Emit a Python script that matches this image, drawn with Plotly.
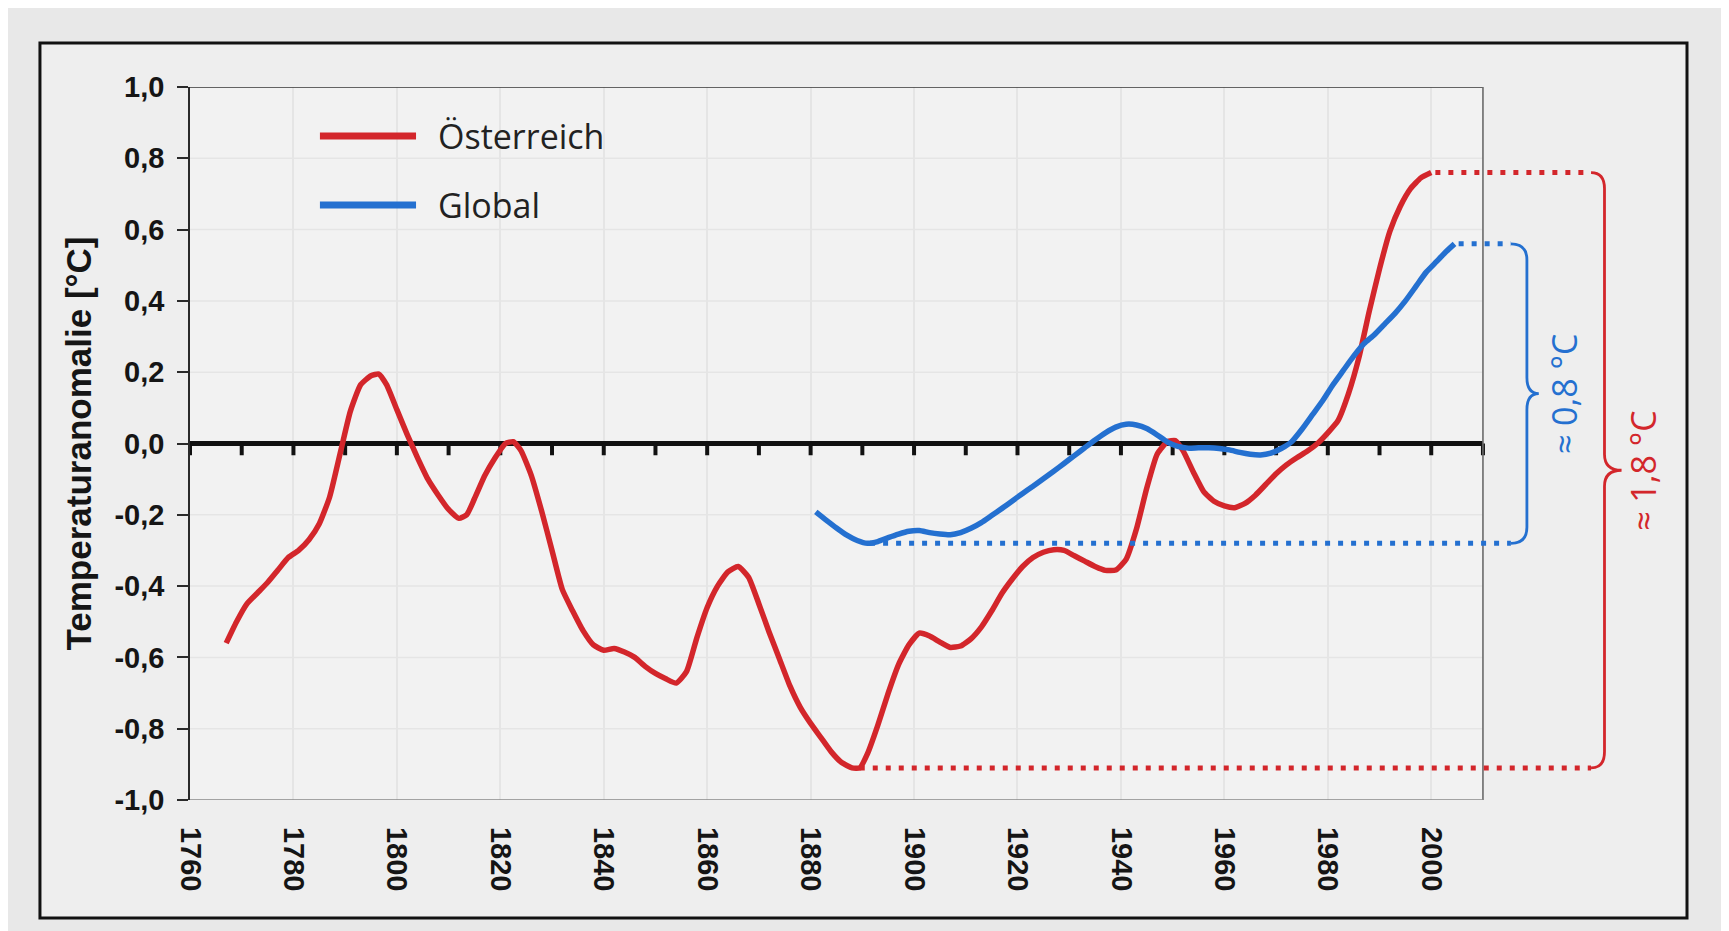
import plotly.graph_objects as go

# ---------------- data ----------------
series_names = ["Österreich", "Global"]

years_at = [1767, 1769, 1771, 1773, 1775, 1777, 1779, 1781, 1783, 1785, 1787, 1789, 1791, 1793,
            1795, 1796.5, 1798, 1800, 1802, 1804, 1806, 1808, 1810, 1812, 1813.5, 1815, 1817,
            1819, 1821, 1822.5, 1824, 1826, 1828, 1830, 1832, 1834, 1836, 1838, 1840, 1842,
            1844, 1846, 1848, 1850, 1852, 1854, 1856, 1858, 1860, 1862, 1864, 1866, 1868, 1870,
            1872, 1874, 1876, 1878, 1880, 1882, 1884, 1886, 1888, 1889.5, 1891, 1893, 1895,
            1897, 1899, 1901, 1903, 1905, 1907, 1909, 1911, 1913, 1915, 1917, 1919, 1921, 1923,
            1925, 1927, 1929, 1931, 1933, 1935, 1937, 1939, 1941, 1943, 1945, 1947, 1949,
            1950.5, 1952, 1954, 1956, 1958, 1960, 1962, 1964, 1966, 1968, 1970, 1972, 1974,
            1976, 1978, 1980, 1982, 1984, 1986, 1988, 1990, 1992, 1994, 1996, 1998, 2000]
temp_at = [-0.56, -0.50, -0.45, -0.42, -0.39, -0.355, -0.32, -0.30, -0.27, -0.225, -0.15, -0.03,
           0.09, 0.165, 0.19, 0.195, 0.165, 0.095, 0.025, -0.04, -0.10, -0.145, -0.185, -0.21,
           -0.20, -0.155, -0.09, -0.04, 0.0, 0.005, -0.02, -0.09, -0.19, -0.30, -0.41, -0.47,
           -0.525, -0.565, -0.58, -0.575, -0.585, -0.60, -0.625, -0.645, -0.66, -0.672, -0.64,
           -0.545, -0.46, -0.40, -0.36, -0.345, -0.375, -0.45, -0.53, -0.605, -0.68, -0.74,
           -0.785, -0.825, -0.865, -0.895, -0.91, -0.91, -0.87, -0.79, -0.70, -0.62, -0.565,
           -0.532, -0.54, -0.557, -0.572, -0.568, -0.548, -0.515, -0.47, -0.42, -0.38, -0.345,
           -0.32, -0.305, -0.298, -0.30, -0.315, -0.33, -0.345, -0.356, -0.355, -0.325, -0.24,
           -0.125, -0.03, 0.005, 0.008, -0.02, -0.08, -0.135, -0.162, -0.175, -0.18, -0.168,
           -0.145, -0.115, -0.085, -0.06, -0.04, -0.022, 0.0, 0.03, 0.065, 0.14, 0.24, 0.37,
           0.49, 0.595, 0.665, 0.715, 0.745, 0.76]

years_gl = [1881, 1883, 1885, 1887, 1889, 1891, 1893, 1895, 1897, 1899, 1901, 1903, 1905, 1907,
            1909, 1911, 1913, 1915, 1917, 1919, 1921, 1923, 1925, 1927, 1929, 1931, 1933, 1935,
            1937, 1939, 1941, 1943, 1945, 1947, 1949, 1951, 1953, 1955, 1957, 1959, 1961, 1963,
            1965, 1967, 1969, 1971, 1973, 1975, 1977, 1979, 1981, 1983, 1985, 1987, 1989, 1991,
            1993, 1995, 1997, 1999, 2001, 2003, 2004.5]
temp_gl = [-0.192, -0.215, -0.237, -0.257, -0.272, -0.28, -0.275, -0.264, -0.254, -0.246,
           -0.244, -0.25, -0.254, -0.256, -0.25, -0.238, -0.222, -0.202, -0.182, -0.161, -0.14,
           -0.12, -0.099, -0.078, -0.056, -0.034, -0.012, 0.01, 0.03, 0.046, 0.054, 0.052,
           0.042, 0.024, 0.004, -0.008, -0.013, -0.012, -0.012, -0.014, -0.018, -0.025, -0.03,
           -0.032, -0.027, -0.014, 0.005, 0.04, 0.08, 0.12, 0.165, 0.205, 0.245, 0.28, 0.305,
           0.335, 0.365, 0.40, 0.44, 0.48, 0.51, 0.54, 0.56]

x_tick_years = [1760, 1780, 1800, 1820, 1840, 1860, 1880, 1900, 1920, 1940, 1960, 1980, 2000]
x_tick_labels = ["1760", "1780", "1800", "1820", "1840", "1860", "1880", "1900", "1920",
                 "1940", "1960", "1980", "2000"]
y_tick_vals = [-1.0, -0.8, -0.6, -0.4, -0.2, 0.0, 0.2, 0.4, 0.6, 0.8, 1.0]
y_tick_labels = ["-1,0", "-0,8", "-0,6", "-0,4", "-0,2", "0,0", "0,2", "0,4", "0,6", "0,8", "1,0"]
zero_tick_years = [1760, 1770, 1780, 1790, 1800, 1810, 1820, 1830, 1840, 1850, 1860, 1870,
                   1880, 1890, 1900, 1910, 1920, 1930, 1940, 1950, 1960, 1970, 1980, 1990,
                   2000, 2010]
range_labels = ["≈ 1,8 °C", "≈ 0,8 °C"]
y_title = "Temperaturanomalie [°C]"

# ---------------- style ----------------
RED = "#d3262b"
BLUE = "#2470d0"
X_MIN, X_END, X_MAX = 1760, 2010, 2048.1
TICK_FONT = dict(family="Liberation Sans, Arial, sans-serif", size=29, color="#151515", weight="bold")
TEXT_FONT = "Open Sans, Noto Sans, sans-serif"

fig = go.Figure()
fig.add_trace(go.Scatter(x=years_at, y=temp_at, mode="lines", name=series_names[0],
                         line=dict(color=RED, width=5.5, shape="spline", smoothing=0.5),
                         showlegend=False, hoverinfo="x+y"))
fig.add_trace(go.Scatter(x=years_gl, y=temp_gl, mode="lines", name=series_names[1],
                         line=dict(color=BLUE, width=5.5, shape="spline", smoothing=0.5),
                         showlegend=False, hoverinfo="x+y"))

shapes = []
# outer frame
shapes.append(dict(type="rect", xref="paper", yref="paper", x0=-0.1007, x1=1.0047,
                   y0=-0.1655, y1=1.0617, fillcolor="#eeeeee",
                   line=dict(color="#111111", width=3), layer="below"))
# inner plot background
shapes.append(dict(type="rect", xref="x", yref="y", x0=X_MIN, x1=X_END, y0=-1, y1=1,
                   fillcolor="#f2f2f2", line=dict(width=0), layer="below"))
# faint horizontal grid
for v in y_tick_vals[1:-1]:
    shapes.append(dict(type="line", xref="x", yref="y", x0=X_MIN, x1=X_END, y0=v, y1=v,
                       line=dict(color="#e5e5e5", width=1.5), layer="below"))
# plot borders
shapes.append(dict(type="line", xref="x", yref="y", x0=X_MIN, x1=X_END, y0=1, y1=1,
                   line=dict(color="#333333", width=1.6)))
shapes.append(dict(type="line", xref="x", yref="y", x0=X_END, x1=X_END, y0=-1, y1=1,
                   line=dict(color="#6a6a6a", width=1.6)))
shapes.append(dict(type="line", xref="x", yref="y", x0=X_MIN, x1=X_END, y0=-1, y1=-1,
                   line=dict(color="#888888", width=1.6)))
# zero line with ticks
shapes.append(dict(type="line", xref="x", yref="y", x0=X_MIN, x1=X_END, y0=0, y1=0,
                   line=dict(color="#111111", width=5), layer="between"))
for yr in zero_tick_years:
    shapes.append(dict(type="line", xref="x", yref="y", x0=yr, x1=yr, y0=0, y1=-0.033,
                       line=dict(color="#111111", width=4), layer="between"))


def brace(x_hook, x_line, x_tip, y_top, y_bot, color):
    r = 0.045
    ym = (y_top + y_bot) / 2
    path = (f"M {x_hook},{y_top} Q {x_line},{y_top} {x_line},{y_top - r} "
            f"L {x_line},{ym + r} Q {x_line},{ym} {x_tip},{ym} "
            f"Q {x_line},{ym} {x_line},{ym - r} "
            f"L {x_line},{y_bot + r} Q {x_line},{y_bot} {x_hook},{y_bot}")
    return dict(type="path", xref="x", yref="y", path=path,
                line=dict(color=color, width=2.8))


def dotted(x0, x1, y, color):
    return dict(type="line", xref="x", yref="y", x0=x0, x1=x1, y0=y, y1=y,
                line=dict(color=color, width=5, dash="5px,8px"))


at_max = max(temp_at); at_max_x = years_at[temp_at.index(at_max)]
at_min = min(temp_at); at_min_x = years_at[temp_at.index(at_min)]
gl_max = max(temp_gl); gl_max_x = years_gl[temp_gl.index(gl_max)]
gl_min = min(temp_gl); gl_min_x = years_gl[temp_gl.index(gl_min)]

RED_HOOK, RED_LINE, RED_TIP = 2030.9, 2033.5, 2036.8
BLUE_HOOK, BLUE_LINE, BLUE_TIP = 2015.4, 2018.5, 2020.8

shapes.append(dotted(at_max_x + 0.8, RED_HOOK, at_max, RED))
shapes.append(dotted(at_min_x + 1.5, RED_HOOK, at_min, RED))
shapes.append(dotted(gl_max_x + 0.8, BLUE_HOOK, gl_max, BLUE))
shapes.append(dotted(gl_min_x + 0.5, BLUE_HOOK, gl_min, BLUE))
shapes.append(brace(RED_HOOK, RED_LINE, RED_TIP, at_max, at_min, RED))
shapes.append(brace(BLUE_HOOK, BLUE_LINE, BLUE_TIP, gl_max, gl_min, BLUE))

# manual legend
shapes.append(dict(type="line", xref="paper", yref="paper", x0=0.0872, x1=0.1517,
                   y0=0.9313, y1=0.9313, line=dict(color=RED, width=7)))
shapes.append(dict(type="line", xref="paper", yref="paper", x0=0.0872, x1=0.1517,
                   y0=0.8345, y1=0.8345, line=dict(color=BLUE, width=7)))

annotations = [
    dict(text=f"<b>{y_title}</b>", xref="paper", yref="paper", x=-0.0745, y=0.5,
         textangle=-90, showarrow=False, xanchor="center", yanchor="middle",
         font=dict(family="Liberation Sans, Arial, sans-serif", size=35, color="#151515")),
    dict(text=series_names[0], xref="paper", yref="paper", x=0.1651, y=0.9313,
         xanchor="left", yanchor="middle", showarrow=False,
         font=dict(family=TEXT_FONT, size=34, color="#222222")),
    dict(text=series_names[1], xref="paper", yref="paper", x=0.1651, y=0.8345,
         xanchor="left", yanchor="middle", showarrow=False,
         font=dict(family=TEXT_FONT, size=34, color="#222222")),
    dict(text=range_labels[1], xref="x", yref="y", x=2025.6, y=(gl_max + gl_min) / 2,
         textangle=-90, showarrow=False, xanchor="center", yanchor="middle",
         font=dict(family=TEXT_FONT, size=34, color=BLUE)),
    dict(text=range_labels[0], xref="x", yref="y", x=2040.9, y=(at_max + at_min) / 2,
         textangle=-90, showarrow=False, xanchor="center", yanchor="middle",
         font=dict(family=TEXT_FONT, size=34, color=RED)),
]

fig.update_layout(
    width=1729, height=931,
    margin=dict(l=182, r=57, t=79, b=139),
    paper_bgcolor="#e8e8e8",
    plot_bgcolor="rgba(0,0,0,0)",
    separators=",.",
    showlegend=False,
    shapes=shapes,
    annotations=annotations,
    xaxis=dict(range=[X_MIN, X_MAX], tickmode="array", tickvals=x_tick_years,
               ticktext=x_tick_labels, tickangle=90, showline=False, zeroline=False,
               showgrid=True, gridcolor="#e5e5e5", gridwidth=1.5,
               ticks="", ticklabelstandoff=26, tickfont=TICK_FONT, fixedrange=True),
    yaxis=dict(range=[-1, 1], tickmode="array", tickvals=y_tick_vals, ticktext=y_tick_labels,
               showline=True, linecolor="#2a2a2a", linewidth=1.6, ticks="outside",
               ticklen=11, tickwidth=1.6, tickcolor="#2a2a2a", showgrid=False,
               zeroline=False, ticklabelstandoff=7, tickfont=TICK_FONT, fixedrange=True),
)

fig.write_html("out.html")
